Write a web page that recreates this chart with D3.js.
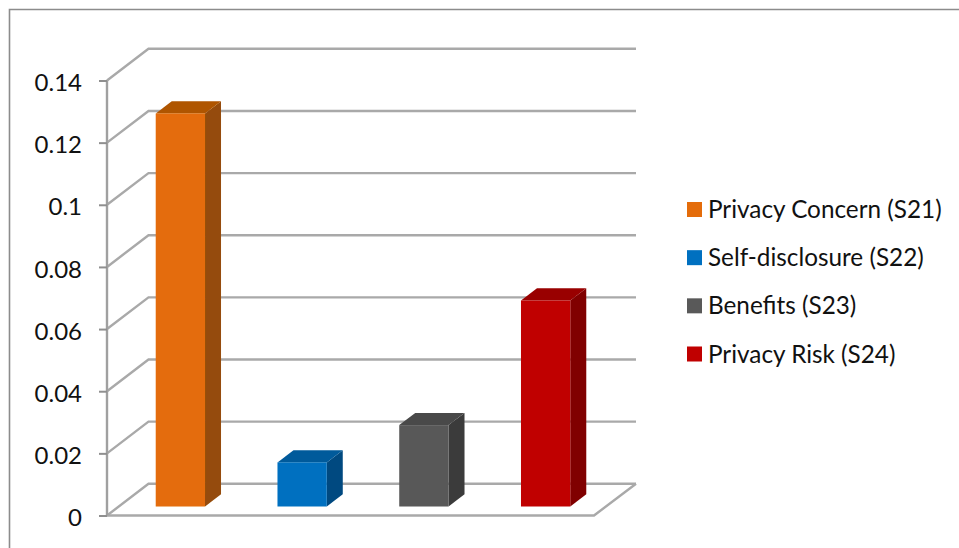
<!DOCTYPE html>
<html><head><meta charset="utf-8">
<script src="https://cdn.jsdelivr.net/npm/d3@7"></script>
<style>html,body{margin:0;padding:0;background:#fff;overflow:hidden}svg{display:block}text{font-family:Lato,"Open Sans",sans-serif;fill:#111}</style>
</head><body><svg id="c" width="959" height="548"></svg>
<script>
const categories = ["Privacy Concern (S21)", "Self-disclosure (S22)", "Benefits (S23)", "Privacy Risk (S24)"];
const seriesValues = [0.1265, 0.0142, 0.0262, 0.0663];
const tickValues = [0, 0.02, 0.04, 0.06, 0.08, 0.1, 0.12, 0.14];
const tickLabels = ["0", "0.02", "0.04", "0.06", "0.08", "0.1", "0.12", "0.14"];
const frontColors = ["#E46C0A", "#0070C0", "#595959", "#C00000"];
const topColors = ["#AF5406", "#005A9B", "#484848", "#990000"];
const sideColors = ["#954C08", "#004A80", "#3A3A3A", "#800000"];

const svg = d3.select("#c");
const defs = svg.append("defs");
defs.append("filter").attr("id","soft").attr("filterUnits","userSpaceOnUse")
  .attr("x",-300).attr("y",-700).attr("width",1600).attr("height",1500)
  .append("feGaussianBlur").attr("stdDeviation",0.55);

// frame
svg.append("path").attr("d","M9.5,548V9.5H959").attr("fill","none").attr("stroke","#8c8c8c").attr("stroke-width",1.6);

const y = d3.scaleLinear().domain([0,0.14]).range([515.5,80.5]);
const x = d3.scaleBand().domain(categories).range([107,594]).paddingInner(0).paddingOuter(0);
const depth = {dx:41.5, dy:-31.7};
const barW = 49.3, barShift = {dx:12.5, dy:-9}, barDepth = {dx:16, dy:-12.2};
const wallRight = 636;

const plot = svg.append("g").attr("filter","url(#soft)");
const grid = plot.append("g").attr("fill","none").attr("stroke","#a9a9a9").attr("stroke-width",2.4);
tickValues.forEach((v,i)=>{
  const p = d3.path();
  p.moveTo(107,y(v)); p.lineTo(107+depth.dx,y(v)+depth.dy); p.lineTo(wallRight,y(v)+depth.dy);
  grid.append("path").attr("d",p.toString());
});
// floor right and front edges
const fl = d3.path();
fl.moveTo(wallRight,y(0)+depth.dy); fl.lineTo(x.range()[1],y(0)); fl.lineTo(107,y(0));
grid.append("path").attr("d",fl.toString());

// axis
const axis = d3.axisLeft(y).tickValues(tickValues).tickSize(8).tickPadding(17)
  .tickFormat((d,i)=>tickLabels[i]);
const ag = svg.append("g").attr("transform","translate(107,0)").call(axis);
ag.select(".domain").attr("stroke","#a0a0a0").attr("stroke-width",2.4).attr("d","M0,80.5V515.5").attr("filter","url(#soft)");
ag.selectAll(".tick line").attr("stroke","#8f8f8f").attr("stroke-width",2).attr("filter","url(#soft)");
ag.selectAll("text").attr("font-size",24).attr("dy","0.42em").style("font-family","Lato").attr("fill","#111");

// bars
const bars = plot.append("g").selectAll("g").data(categories).join("g");
bars.each(function(c,i){
  const g = d3.select(this);
  const v = seriesValues[i];
  const x0 = x(c)+x.bandwidth()/2-barW/2+barShift.dx, x1 = x0+barW;
  const yb = y(0)+barShift.dy, yt = y(v)+barShift.dy;
  const dx = barDepth.dx, dy = barDepth.dy;
  g.append("polygon").attr("fill",sideColors[i])
    .attr("points",[[x1,yt],[x1+dx,yt+dy],[x1+dx,yb+dy],[x1,yb]].join(" "));
  g.append("polygon").attr("fill",topColors[i])
    .attr("points",[[x0,yt],[x0+dx,yt+dy],[x1+dx,yt+dy],[x1,yt]].join(" "));
  g.append("rect").attr("x",x0).attr("y",yt).attr("width",barW).attr("height",yb-yt).attr("fill",frontColors[i]);
});

// legend
const legendY = d3.scalePoint().domain(categories).range([209.5,354]);
const lg = svg.append("g").selectAll("g").data(categories).join("g")
  .attr("transform",d=>`translate(687,${legendY(d)})`);
lg.append("rect").attr("x",0).attr("y",-7.5).attr("width",15).attr("height",15).attr("fill",(d,i)=>frontColors[i]);
lg.append("text").attr("x",21).attr("dy","0.35em").attr("font-size",24.3).text(d=>d);
</script></body></html>
